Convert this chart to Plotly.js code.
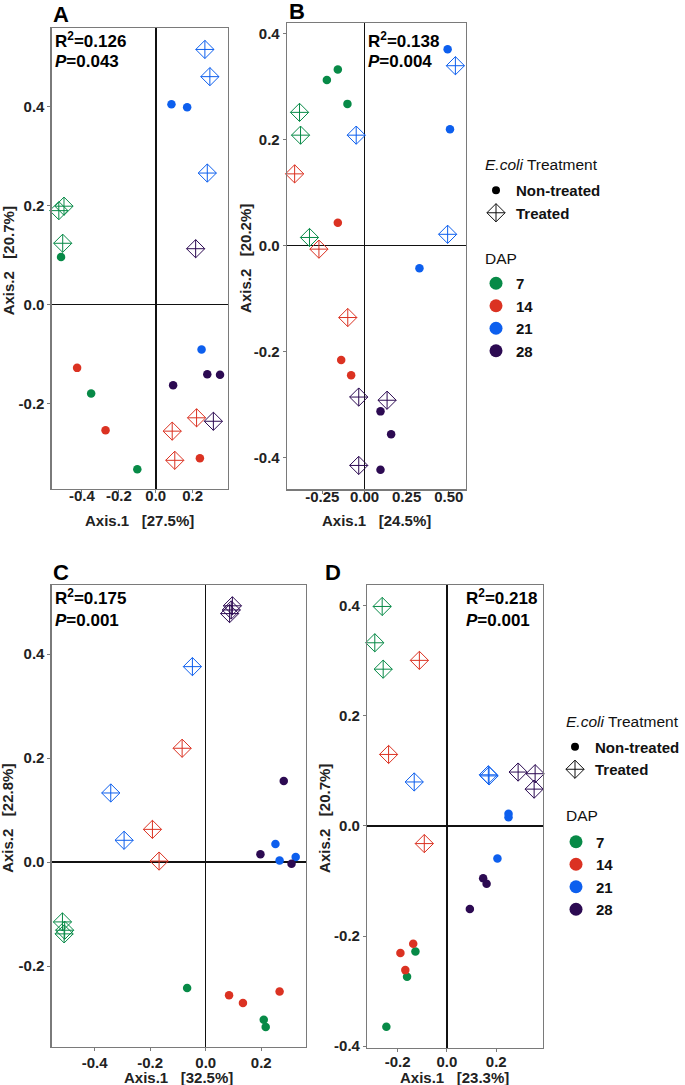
<!DOCTYPE html>
<html>
<head>
<meta charset="utf-8">
<script src="https://cdn.plot.ly/plotly-3.0.1.min.js"></script>
<style>
html,body{margin:0;padding:0;background:#fff;}
#chart{width:685px;height:1085px;}
</style>
</head>
<body>
<div id="chart"></div>
<script>
// ---------------- DATA ----------------
const dapLevels = ['7', '14', '21', '28'];
const treatLevels = ['Non-treated', 'Treated'];

// Panel A
const A_dap = ['7','7','7','7','7','7','14','14','14','14','14','14','21','21','21','21','21','21','28','28','28','28','28'];
const A_trt = ['Non-treated','Non-treated','Non-treated','Treated','Treated','Treated','Non-treated','Non-treated','Non-treated','Treated','Treated','Treated','Non-treated','Non-treated','Non-treated','Treated','Treated','Treated','Non-treated','Non-treated','Non-treated','Treated','Treated'];
const A_x = [-0.513,-0.350,-0.100,-0.525,-0.497,-0.504,-0.426,-0.272,0.239,0.221,0.089,0.103,0.085,0.170,0.248,0.266,0.293,0.279,0.094,0.279,0.348,0.216,0.312];
const A_y = [0.096,-0.180,-0.333,0.190,0.199,0.124,-0.128,-0.254,-0.311,-0.229,-0.256,-0.315,0.405,0.399,-0.091,0.516,0.461,0.266,-0.163,-0.141,-0.142,0.113,-0.236];

// Panel B
const B_dap = ['7','7','7','7','7','7','14','14','14','14','14','14','21','21','21','21','21','21','28','28','28','28','28','28'];
const B_trt = ['Non-treated','Non-treated','Non-treated','Treated','Treated','Treated','Non-treated','Non-treated','Non-treated','Treated','Treated','Treated','Non-treated','Non-treated','Non-treated','Treated','Treated','Treated','Non-treated','Non-treated','Non-treated','Treated','Treated','Treated'];
const B_x = [-0.223,-0.158,-0.101,-0.385,-0.379,-0.326,-0.158,-0.138,-0.079,-0.414,-0.270,-0.099,0.493,0.507,0.326,-0.049,0.539,0.493,0.095,0.158,0.095,-0.034,0.134,-0.034];
const B_y = [0.312,0.332,0.267,0.251,0.208,0.015,0.043,-0.216,-0.245,0.135,-0.007,-0.136,0.370,0.219,-0.043,0.208,0.339,0.021,-0.313,-0.356,-0.423,-0.286,-0.292,-0.415];

// Panel C
const C_dap = B_dap;
const C_trt = B_trt;
const C_x = [-0.067,0.209,0.216,-0.516,-0.508,-0.510,0.084,0.134,0.266,-0.085,-0.192,-0.168,0.251,0.266,0.324,-0.048,-0.342,-0.294,0.197,0.309,0.281,0.096,0.086,0.092];
const C_y = [-0.242,-0.303,-0.317,-0.115,-0.131,-0.138,-0.256,-0.271,-0.249,0.219,0.063,0.002,0.035,0.003,0.010,0.376,0.133,0.042,0.015,-0.003,0.156,0.493,0.478,0.485];

// Panel D
const D_dap = B_dap;
const D_trt = B_trt;
const D_x = [-0.128,-0.162,-0.246,-0.263,-0.293,-0.259,-0.137,-0.189,-0.169,-0.112,-0.237,-0.092,0.250,0.250,0.205,-0.133,0.171,0.168,0.147,0.161,0.093,0.289,0.358,0.354];
const D_y = [-0.228,-0.274,-0.365,0.399,0.333,0.285,-0.214,-0.231,-0.262,0.301,0.130,-0.032,0.022,0.016,-0.059,0.080,0.091,0.093,-0.095,-0.105,-0.151,0.098,0.095,0.067];

// Statistics and axis text
const panelLabels = ['A', 'B', 'C', 'D'];
const R2 = ['0.126', '0.138', '0.175', '0.218'];
const Pval = ['0.043', '0.004', '0.001', '0.001'];
const xVar = ['27.5%', '24.5%', '32.5%', '23.3%'];
const yVar = ['20.7%', '20.2%', '22.8%', '20.7%'];
const legendTitles = ['<i>E.coli</i> Treatment', 'DAP'];

// Tick labels
const A_xticks = [-0.4, -0.2, 0.0, 0.2];
const A_xtext = ['-0.4', '-0.2', '0.0', '0.2'];
const A_yticks = [-0.2, 0.0, 0.2, 0.4];
const A_ytext = ['-0.2', '0.0', '0.2', '0.4'];
const B_xticks = [-0.25, 0.0, 0.25, 0.5];
const B_xtext = ['-0.25', '0.00', '0.25', '0.50'];
const B_yticks = [-0.4, -0.2, 0.0, 0.2, 0.4];
const B_ytext = ['-0.4', '-0.2', '0.0', '0.2', '0.4'];
const C_xticks = [-0.4, -0.2, 0.0, 0.2];
const C_xtext = ['-0.4', '-0.2', '0.0', '0.2'];
const C_yticks = [-0.2, 0.0, 0.2, 0.4];
const C_ytext = ['-0.2', '0.0', '0.2', '0.4'];
const D_xticks = [-0.2, 0.0, 0.2];
const D_xtext = ['-0.2', '0.0', '0.2'];
const D_yticks = [-0.4, -0.2, 0.0, 0.2, 0.4];
const D_ytext = ['-0.4', '-0.2', '0.0', '0.2', '0.4'];

// ---------------- STYLE ----------------
const W = 685, H = 1085;
const FONT = 'Liberation Sans, Arial, Helvetica, sans-serif';
const dapColors = {'7': '#078a47', '14': '#db3222', '21': '#0d5fee', '28': '#2c0a52'};

const px2x = p => p / W;
const px2y = p => 1 - p / H;

const panels = [
  {id: '', dap: A_dap, trt: A_trt, x: A_x, y: A_y, box: [51.7, 228.3, 27.7, 489],
   xr: [-0.564, 0.391], yr: [-0.373, 0.56], xt: A_xticks, xtt: A_xtext, yt: A_yticks, ytt: A_ytext,
   xso: -10, xTitleY: 521, yTitleX: 8},
  {id: '2', dap: B_dap, trt: B_trt, x: B_x, y: B_y, box: [287.3, 466.7, 23.3, 489.3],
   xr: [-0.46, 0.602], yr: [-0.46, 0.419], xt: B_xticks, xtt: B_xtext, yt: B_yticks, ytt: B_ytext,
   xso: -10, xTitleY: 521, yTitleX: 246},
  {id: '3', dap: C_dap, trt: C_trt, x: C_x, y: C_y, box: [51.7, 306.7, 585, 1046.7],
   xr: [-0.555, 0.362], yr: [-0.355, 0.533], xt: C_xticks, xtt: C_xtext, yt: C_yticks, ytt: C_ytext,
   xso: -1, xTitleY: 1077, yTitleX: 8},
  {id: '4', dap: D_dap, trt: D_trt, x: D_x, y: D_y, box: [367.7, 543.3, 585, 1047.7],
   xr: [-0.324, 0.388], yr: [-0.403, 0.438], xt: D_xticks, xtt: D_xtext, yt: D_yticks, ytt: D_ytext,
   xso: -3, xTitleY: 1077, yTitleX: 325}
];

const traces = [];
const layout = {
  width: W, height: H,
  margin: {l: 0, r: 0, t: 0, b: 0},
  paper_bgcolor: '#ffffff', plot_bgcolor: '#ffffff',
  font: {family: FONT, color: '#1a1a1a'},
  hovermode: false,
  annotations: [],
  showlegend: true
};
const titleFont = {family: FONT, size: 15, color: '#222222'};

panels.forEach((p, i) => {
  const xa = 'x' + p.id, ya = 'y' + p.id;
  treatLevels.forEach(t => {
    dapLevels.forEach(d => {
      const xs = [], ys = [];
      p.x.forEach((v, k) => {
        if (p.dap[k] === d && p.trt[k] === t) { xs.push(v); ys.push(p.y[k]); }
      });
      traces.push({
        type: 'scatter', mode: 'markers', x: xs, y: ys, xaxis: xa, yaxis: ya,
        showlegend: false, cliponaxis: false,
        marker: t === 'Treated'
          ? {symbol: 'diamond-cross-open', size: 14, color: dapColors[d], line: {width: 1, color: dapColors[d]}}
          : {symbol: 'circle', size: 8.5, color: dapColors[d], line: {width: 0}}
      });
    });
  });
  const axBase = {
    showgrid: false, showline: true, mirror: true, linecolor: '#7a7a7a', linewidth: 1.2,
    zeroline: true, zerolinecolor: '#111111', zerolinewidth: 1.5,
    ticks: 'outside', ticklen: 3, tickwidth: 1, tickcolor: '#7a7a7a',
    tickfont: {family: FONT, size: 15, weight: 'bold', color: '#222222'},
    fixedrange: true, automargin: false
  };
  const b = p.box;
  layout['xaxis' + p.id] = Object.assign({}, axBase, {
    domain: [px2x(b[0]), px2x(b[1])], range: p.xr, anchor: ya,
    tickmode: 'array', tickvals: p.xt, ticktext: p.xtt, ticklabelstandoff: p.xso
  });
  layout['yaxis' + p.id] = Object.assign({}, axBase, {
    domain: [px2y(b[3]), px2y(b[2])], range: p.yr, anchor: xa,
    tickmode: 'array', tickvals: p.yt, ticktext: p.ytt
  });
  // axis titles
  layout.annotations.push({xref: 'paper', yref: 'paper', x: px2x((b[0] + b[1]) / 2), y: px2y(p.xTitleY),
    xanchor: 'center', yanchor: 'middle', showarrow: false,
    text: '<b>Axis.1\u00A0\u00A0\u00A0[' + xVar[i] + ']</b>', font: titleFont});
  layout.annotations.push({xref: 'paper', yref: 'paper', x: px2x(p.yTitleX), y: px2y((b[2] + b[3]) / 2 + 2),
    xanchor: 'center', yanchor: 'middle', showarrow: false, textangle: -90,
    text: '<b>Axis.2\u00A0\u00A0\u00A0[' + yVar[i] + ']</b>', font: titleFont});
});

// panel letters
const letterPos = [[51.5, 14], [287, 12], [51.5, 572], [323.5, 572]];
letterPos.forEach((lp, i) => {
  layout.annotations.push({xref: 'paper', yref: 'paper', x: px2x(lp[0]), y: px2y(lp[1]),
    xanchor: 'left', yanchor: 'middle', showarrow: false,
    text: '<b>' + panelLabels[i] + '</b>', font: {family: FONT, size: 22, color: '#000'}});
});
// statistics
const statPos = [[53.5, 40.5, 61], [366.5, 40.5, 61], [53.5, 597, 620], [465, 597, 620]];
statPos.forEach((sp, i) => {
  layout.annotations.push({xref: 'paper', yref: 'paper', x: px2x(sp[0]), y: px2y(sp[1]),
    xanchor: 'left', yanchor: 'middle', showarrow: false,
    text: '<b>R<sup>2</sup>=' + R2[i] + '</b>', font: {family: FONT, size: 17, color: '#000'}});
  layout.annotations.push({xref: 'paper', yref: 'paper', x: px2x(sp[0]), y: px2y(sp[2]),
    xanchor: 'left', yanchor: 'middle', showarrow: false,
    text: '<b><i>P</i>=' + Pval[i] + '</b>', font: {family: FONT, size: 17, color: '#000'}});
});

// legends (dummy entries) and their titles
const legendSets = [
  {trtLeg: 'legend', dapLeg: 'legend2', left: 476, trtTop: 174, dapTop: 267, titleX: 484, trtTitleY: 164, dapTitleY: 258.5},
  {trtLeg: 'legend3', dapLeg: 'legend4', left: 556, trtTop: 730.5, dapTop: 825.5, titleX: 565, trtTitleY: 721, dapTitleY: 815.5}
];
legendSets.forEach(ls => {
  treatLevels.forEach(t => {
    traces.push({type: 'scatter', mode: 'markers', x: [null], y: [null], xaxis: 'x', yaxis: 'y',
      name: '<b>' + t + '</b>', legend: ls.trtLeg, showlegend: true,
      marker: t === 'Treated'
        ? {symbol: 'diamond-cross-open', size: 14, color: '#111', line: {width: 1, color: '#111'}}
        : {symbol: 'circle', size: 8, color: '#000'}});
  });
  dapLevels.forEach(d => {
    traces.push({type: 'scatter', mode: 'markers', x: [null], y: [null], xaxis: 'x', yaxis: 'y',
      name: '<b>' + d + '</b>', legend: ls.dapLeg, showlegend: true,
      marker: {symbol: 'circle', size: 13, color: dapColors[d]}});
  });
  const legBase = {xanchor: 'left', yanchor: 'top', bgcolor: 'rgba(0,0,0,0)', borderwidth: 0,
    font: {family: FONT, size: 15, color: '#111'}, itemclick: false, itemdoubleclick: false};
  layout[ls.trtLeg] = Object.assign({}, legBase, {x: px2x(ls.left), y: px2y(ls.trtTop)});
  layout[ls.dapLeg] = Object.assign({}, legBase, {x: px2x(ls.left), y: px2y(ls.dapTop)});
  layout.annotations.push({xref: 'paper', yref: 'paper', x: px2x(ls.titleX), y: px2y(ls.trtTitleY),
    xanchor: 'left', yanchor: 'middle', showarrow: false, text: legendTitles[0],
    font: {family: FONT, size: 15.5, color: '#111'}});
  layout.annotations.push({xref: 'paper', yref: 'paper', x: px2x(ls.titleX), y: px2y(ls.dapTitleY),
    xanchor: 'left', yanchor: 'middle', showarrow: false, text: legendTitles[1],
    font: {family: FONT, size: 15.5, color: '#111'}});
});

Plotly.newPlot('chart', traces, layout, {displayModeBar: false, staticPlot: true});
</script>
</body>
</html>
